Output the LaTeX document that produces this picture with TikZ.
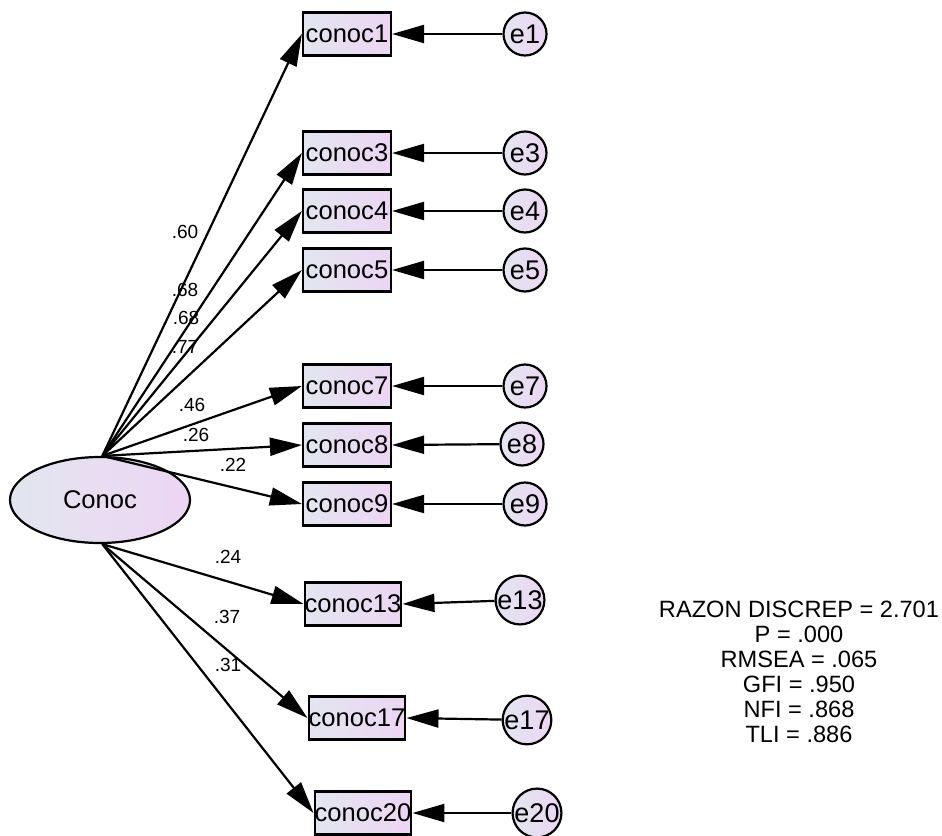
\documentclass[tikz,border=0pt]{standalone}
\usepackage{fontspec}
\setmainfont{Liberation Sans}
\usetikzlibrary{arrows.meta,shapes.geometric}
\definecolor{ink}{HTML}{000000}
\definecolor{shadeleft}{HTML}{E2E6F0}
\definecolor{shaderight}{HTML}{EDD5F3}

\begin{document}
\begin{tikzpicture}[
  x=0.5pt,
  y=-0.5pt,
  line width=1.1pt,
  obs/.style={draw=ink, left color=shadeleft, right color=shaderight,
    minimum width=44pt, minimum height=21.5pt, inner sep=0pt,
    font=\fontsize{12.8}{14}\selectfont},
  err/.style={circle, draw=ink, left color=shadeleft, right color=shaderight,
    minimum size=21.5pt, inner sep=0pt, font=\fontsize{13.5}{15}\selectfont},
  lat/.style={ellipse, draw=ink, left color=shadeleft, right color=shaderight,
    minimum width=90pt, minimum height=43pt, inner sep=0pt,
    font=\fontsize{12.8}{14}\selectfont},
  load/.style={draw=ink, -{Triangle[length=16pt,width=9pt]}},
  coef/.style={inner sep=0pt, font=\fontsize{9.5}{11}\selectfont}
]
  \useasboundingbox (0,0) rectangle (942,835);

  % latent variable
  \node[lat] (Conoc) at (100,500) {Conoc};

  % observed indicators
  \node[obs] (c1) at (347,34) {conoc1};
  \node[obs] (c3) at (347,153) {conoc3};
  \node[obs] (c4) at (347,211) {conoc4};
  \node[obs] (c5) at (347,270) {conoc5};
  \node[obs] (c7) at (347,386) {conoc7};
  \node[obs] (c8) at (347,445) {conoc8};
  \node[obs] (c9) at (347,504) {conoc9};
  \node[obs,minimum width=45pt] (c13) at (353,604) {conoc13};
  \node[obs,minimum width=45pt] (c17) at (357,718) {conoc17};
  \node[obs,minimum width=45pt] (c20) at (363,813) {conoc20};

  % error terms
  \node[err] (e1) at (525,34) {e1};
  \node[err] (e3) at (525,153) {e3};
  \node[err] (e4) at (525,211) {e4};
  \node[err] (e5) at (525,270) {e5};
  \node[err] (e7) at (525,386) {e7};
  \node[err] (e8) at (522,444) {e8};
  \node[err] (e9) at (525,504) {e9};
  \node[err] (e13) at (520,600) {e13};
  \node[err] (e17) at (527,720) {e17};
  \node[err] (e20) at (537,813) {e20};

  % loadings
  \draw[load] (Conoc.87) -- (c1.west);
  \draw[load] (Conoc.87) -- (c3.west);
  \draw[load] (Conoc.87) -- (c4.west);
  \draw[load] (Conoc.87) -- (c5.west);
  \draw[load] (Conoc.87) -- (c7.west);
  \draw[load] (Conoc.87) -- (c8.west);
  \draw[load] (Conoc.87) -- (c9.west);
  \draw[load] (Conoc.-87) -- (c13.west);
  \draw[load] (Conoc.-87) -- (c17.west);
  \draw[load] (Conoc.-87) -- (c20.west);

  % errors to indicators
  \draw[load] (e1) -- (c1.east);
  \draw[load] (e3) -- (c3.east);
  \draw[load] (e4) -- (c4.east);
  \draw[load] (e5) -- (c5.east);
  \draw[load] (e7) -- (c7.east);
  \draw[load] (e8) -- (c8.east);
  \draw[load] (e9) -- (c9.east);
  \draw[load] (e13) -- (c13.east);
  \draw[load] (e17) -- (c17.east);
  \draw[load] (e20) -- (c20.east);

  % standardized estimates
  \node[coef] (l1) at (185,232) {.60};
  \node[coef] (l3) at (185,290) {.68};
  \node[coef] (l4) at (186,318) {.68};
  \node[coef] (l5) at (185,347) {.77};
  \node[coef] (l7) at (192,405) {.46};
  \node[coef] (l8) at (196,435) {.26};
  \node[coef] (l9) at (233,465) {.22};
  \node[coef] (l13) at (228,557) {.24};
  \node[coef] (l17) at (227,617) {.37};
  \node[coef] (l20) at (228,665) {.31};

  % fit indices
  \node[align=center, inner sep=0pt, font=\fontsize{11.8}{12.5}\selectfont]
    (fit) at (799,672) {RAZON DISCREP = 2.701\\P = .000\\RMSEA = .065\\GFI = .950\\NFI = .868\\TLI = .886};
\end{tikzpicture}
\end{document}
